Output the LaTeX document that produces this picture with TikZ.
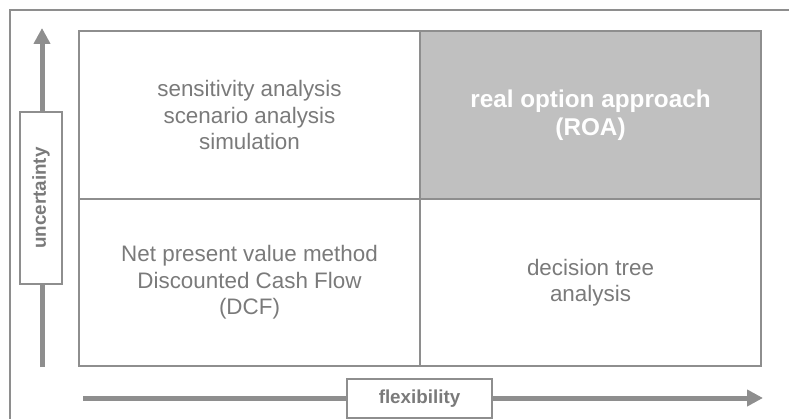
\documentclass[tikz,border=0pt]{standalone}
\usepackage{fontspec}
\setmainfont{Liberation Sans}
\usetikzlibrary{arrows.meta}
\definecolor{ln}{HTML}{8E8E8E}
\definecolor{tx}{HTML}{7A7A7A}
\definecolor{cellfill}{HTML}{C0C0C0}
\begin{document}
\begin{tikzpicture}[x=1pt,y=-1pt,
  cell/.style={draw=ln, line width=2pt, minimum width=341pt, minimum height=168pt, inner sep=0pt,
    align=center, text=tx, font=\fontsize{22.4}{26.5}\selectfont},
  hotcell/.style={cell, fill=cellfill, text=white, font=\fontsize{24.3}{28}\selectfont\bfseries},
  axislabel/.style={draw=ln, line width=1.6pt, fill=white, inner sep=0pt, text=tx,
    font=\fontsize{18.8}{22}\selectfont\bfseries},
  axisarrow/.style={draw=ln, line width=5pt, -{Triangle[length=16pt,width=16pt]}}]
\useasboundingbox (0,0) rectangle (789,419);
% outer frame (extends beyond the page on right and bottom)
\draw[ln, line width=2pt] (10,440) -- (10,10) -- (810,10);
% quadrants
\node[cell] (tl) at (249.5,115) {sensitivity analysis\\scenario analysis\\simulation};
\node[hotcell] (tr) at (590.5,115) {real option approach\\(ROA)};
\node[cell, minimum height=167pt] (bl) at (249.5,282.5) {Net present value method\\Discounted Cash Flow\\(DCF)};
\node[cell, minimum height=167pt] (br) at (590.5,282.5) {decision tree\\analysis};
% axes
\coordinate (ub) at (42,367);
\coordinate (ut) at (42,28);
\coordinate (fb) at (83,398);
\coordinate (fe) at (763,398);
\draw[axisarrow] (ub) -- (ut);
\draw[axisarrow] (fb) -- (fe);
\node[axislabel, rotate=90, minimum width=172pt, minimum height=42pt] (unc) at (41,198) {uncertainty};
\node[axislabel, minimum width=145pt, minimum height=39pt] (flex) at (419.5,398.5) {flexibility};
\end{tikzpicture}
\end{document}
